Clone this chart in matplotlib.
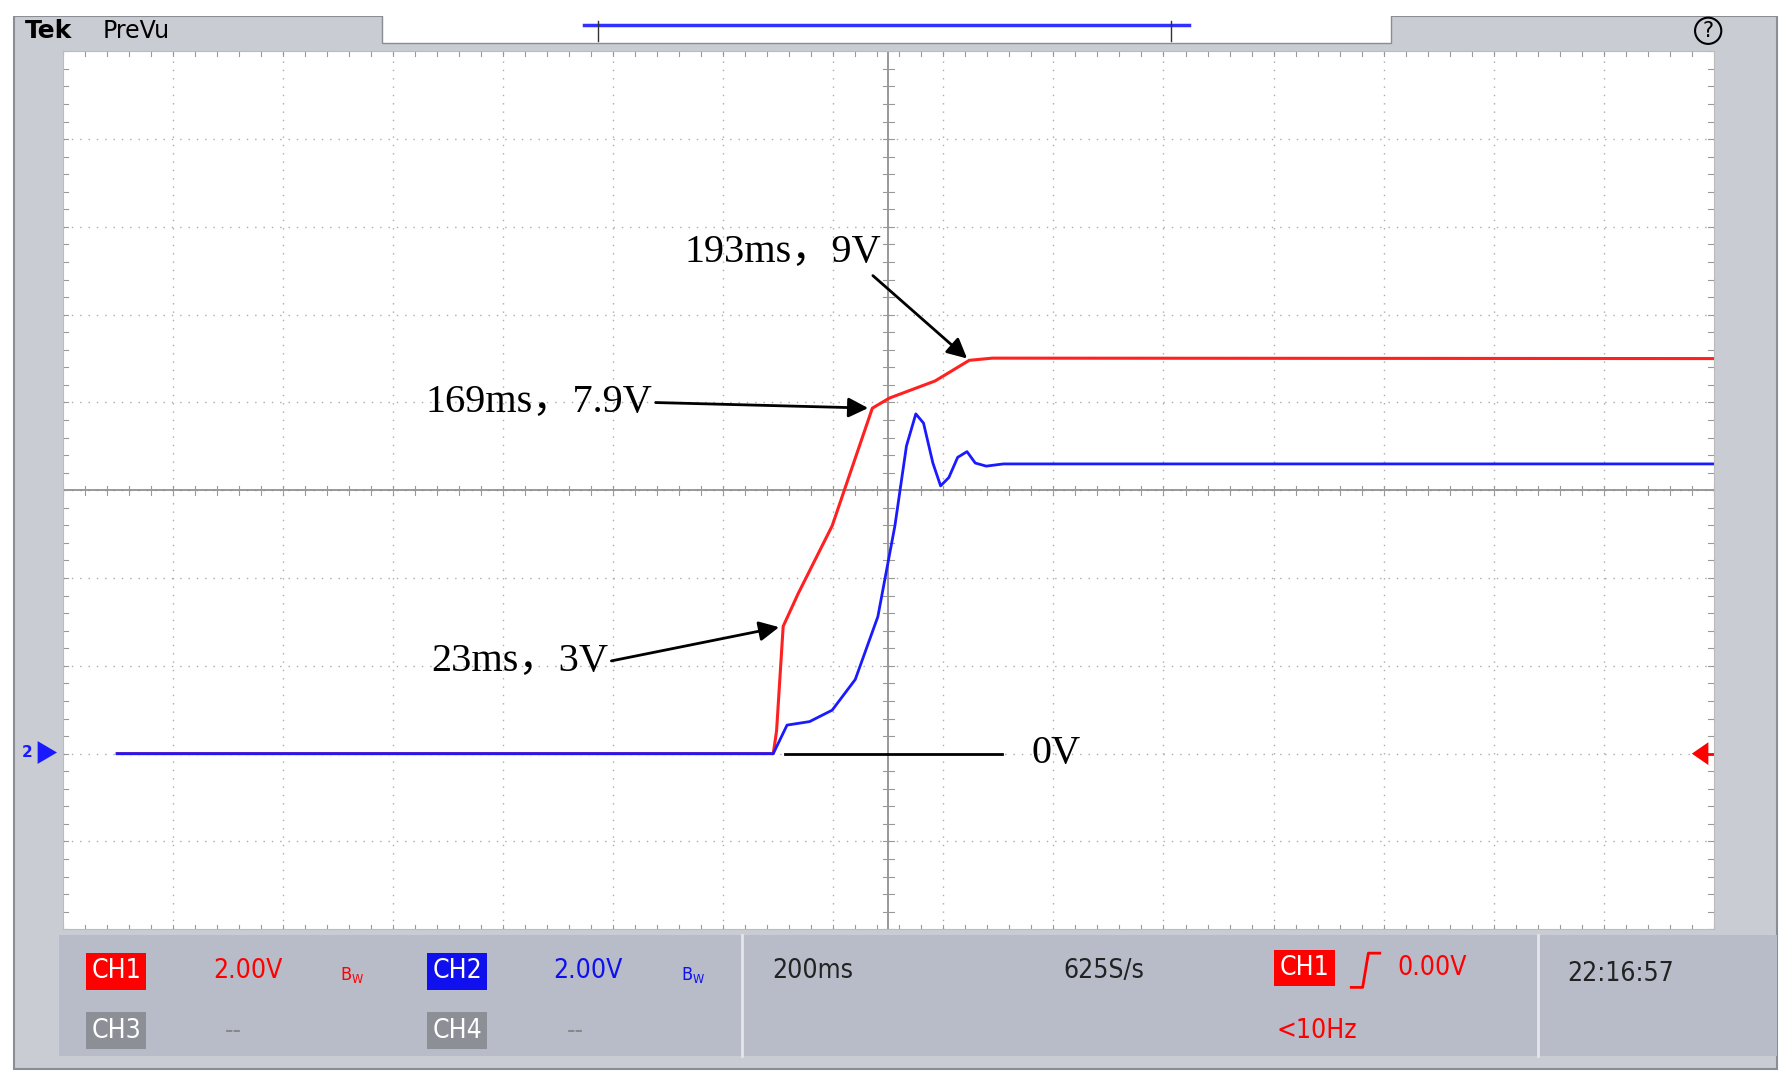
import numpy as np
import matplotlib.pyplot as plt
from matplotlib.patches import Rectangle, Polygon

# scope settings
ms_per_div = 200
v_per_div = 2.0
offset_div = -3.0  # both channels' ground level

# traces (ms from centre, volts)
ch1_t = [-1401, -209, -203, -191, -164, -102, -29, 2, 85, 147, 189, 1500]
ch1_v = [0.0, 0.0, 0.52, 2.9, 3.64, 5.19, 7.87, 8.10, 8.49, 8.96, 9.01, 9.0]
ch2_t = [-1401, -209, -184, -143, -102, -60, -19, 12, 33, 50, 64, 81, 95, 110, 126, 143, 158, 178, 209, 1500]
ch2_v = [0.0, 0.0, 0.65, 0.73, 0.99, 1.69, 3.12, 5.19, 7.01, 7.74, 7.53, 6.62, 6.10, 6.29, 6.75, 6.88, 6.62, 6.55, 6.6, 6.6]

W, H = 1568, 949
fig = plt.figure(figsize=(17.88, 10.82), dpi=100)

# background / chrome axes in screen pixels
bg = fig.add_axes([0, 0, 1, 1])
bg.set_xlim(0, W)
bg.set_ylim(H, 0)
bg.axis('off')
frame = '#c9ccd3'
bg.add_patch(Rectangle((12, 14), 1546, 924, fc=frame, ec='#8a8d94', lw=1.5))
bg.add_patch(Rectangle((335, 10), 885, 28, fc='white', ec='#8a8d94', lw=1))
bg.add_patch(Rectangle((0, 0), W, 14, fc='white', ec='none'))
bg.add_patch(Rectangle((55, 45), 1448, 770, fc='white', ec='none'))
bg.add_patch(Rectangle((52, 820), 1506, 106, fc='#b8bcc9', ec='none'))
bg.plot([651, 651], [820, 926], color='#e4e6ea', lw=2)
bg.plot([1349, 1349], [820, 926], color='#e4e6ea', lw=2)
bg.plot([512, 1043], [22, 22], color='#3030ff', lw=2.5)
bg.plot([524, 524], [18, 36], color='#333333', lw=1)
bg.plot([1027, 1027], [18, 36], color='#333333', lw=1)
bg.text(22, 27, 'Tek', fontsize=18, fontweight='bold', va='center')
bg.text(90, 27, 'PreVu', fontsize=17, va='center')
bg.text(1498, 27, '?', fontsize=15, va='center', ha='center',
        bbox=dict(boxstyle='circle,pad=0.15', fc='none', ec='black', lw=1.5))

def label(x, y, s, color, box=None, size=19):
    kw = dict(fontsize=size, va='center', ha='center', color=color, family='DejaVu Sans', fontstretch='condensed')
    if box:
        kw['bbox'] = dict(boxstyle='square,pad=0.2', fc=box, ec='none')
    bg.text(x, y, s, **kw)

label(102, 852, 'CH1', 'white', 'red')
label(217, 852, '2.00V', 'red')
label(309, 855, r'$\mathregular{B_W}$', 'red', size=13)
label(401, 852, 'CH2', 'white', '#1010ee')
label(516, 852, '2.00V', '#1010ee')
label(608, 855, r'$\mathregular{B_W}$', '#1010ee', size=13)
label(102, 904, 'CH3', 'white', '#8c8f96')
label(205, 904, '--', '#888888')
label(401, 904, 'CH4', 'white', '#8c8f96')
label(505, 904, '--', '#888888')
label(713, 852, '200ms', '#222222')
label(968, 852, '625S/s', '#222222')
label(1144, 849, 'CH1', 'white', 'red')
bg.plot([1185, 1195, 1200, 1210], [866, 866, 836, 836], color='red', lw=2)
label(1256, 849, '0.00V', 'red')
label(1155, 904, '<10Hz', 'red')
label(1421, 854, '22:16:57', '#222222')

# scope grid axes
ax = fig.add_axes([55 / W, 1 - 815 / H, 1448 / W, 770 / H])
ax.patch.set_visible(False)
ax.set_xlim(-7.5, 7.5)
ax.set_ylim(-5, 5)
ax.set_xticks([]); ax.set_yticks([])
for s in ax.spines.values():
    s.set_color('#bbbbbb')
for x in np.arange(-6.5, 7.5, 1.0):
    ax.axvline(x, color='#aaaaaa', lw=1, ls=(0, (1, 5)))
for y in np.arange(-4, 5, 1.0):
    ax.axhline(y, color='#aaaaaa', lw=1, ls=(0, (1, 5)))
ax.axvline(0, color='#888888', lw=1.2)
ax.axhline(0, color='#888888', lw=1.2)
for x in np.arange(-7.5, 7.51, 0.2):
    for y0 in (0, -5, 5):
        ax.plot([x, x], [y0 - 0.05, y0 + 0.05], color='#999999', lw=0.8)
for y in np.arange(-5, 5.01, 0.2):
    for x0 in (0, -7.5, 7.5):
        ax.plot([x0 - 0.05, x0 + 0.05], [y, y], color='#999999', lw=0.8)

def to_div(t, v):
    return np.array(t) / ms_per_div, np.array(v) / v_per_div + offset_div

def pt(t, v):
    return (t / ms_per_div, v / v_per_div + offset_div)

bx, by = to_div(ch2_t, ch2_v)
rx, ry = to_div(ch1_t, ch1_v)
ax.plot(rx, ry, color='#ff2020', lw=2.2)
ax.plot(bx, by, color='#1a1aff', lw=2)

# ground markers
ax.plot([-0.94, 1.03], [offset_div, offset_div], color='black', lw=2)
bg.add_patch(Polygon([[33, 650], [33, 670], [50, 660]], fc='#1a1aff', ec='none', zorder=5))
bg.text(24, 660, '2', fontsize=11, color='#1a1aff', va='center', ha='center', fontweight='bold')
ax.add_patch(Polygon([[7.3, offset_div], [7.45, offset_div + 0.13], [7.45, offset_div - 0.13]],
                     fc='red', ec='none', zorder=5))
ax.plot([7.4, 7.5], [offset_div, offset_div], color='red', lw=2)

# annotations
tf = dict(fontsize=29, family=['Times New Roman', 'Liberation Serif', 'Noto Sans CJK SC'])
arr = dict(arrowstyle='-|>', color='black', lw=2, mutation_scale=30)
ax.annotate('193ms，9V', xy=pt(147, 8.96), xytext=(-1.85, 2.6), textcoords='data',
            arrowprops=dict(arr, shrinkA=2, shrinkB=2, relpos=(0.93, 0)), **tf)
ax.annotate('169ms，7.9V', xy=pt(-29, 7.87), xytext=(-4.2, 1.0), textcoords='data',
            va='center', arrowprops=dict(arr, shrinkA=0, shrinkB=3, relpos=(1, 0.5)), **tf)
ax.annotate('23ms，3V', xy=pt(-191, 2.9), xytext=(-4.15, -1.95), textcoords='data',
            va='center', arrowprops=dict(arr, shrinkA=0, shrinkB=3, relpos=(1, 0.5)), **tf)
ax.text(1.3, offset_div, '0V', va='center', **tf)

fig.savefig('out.png', dpi=100)
